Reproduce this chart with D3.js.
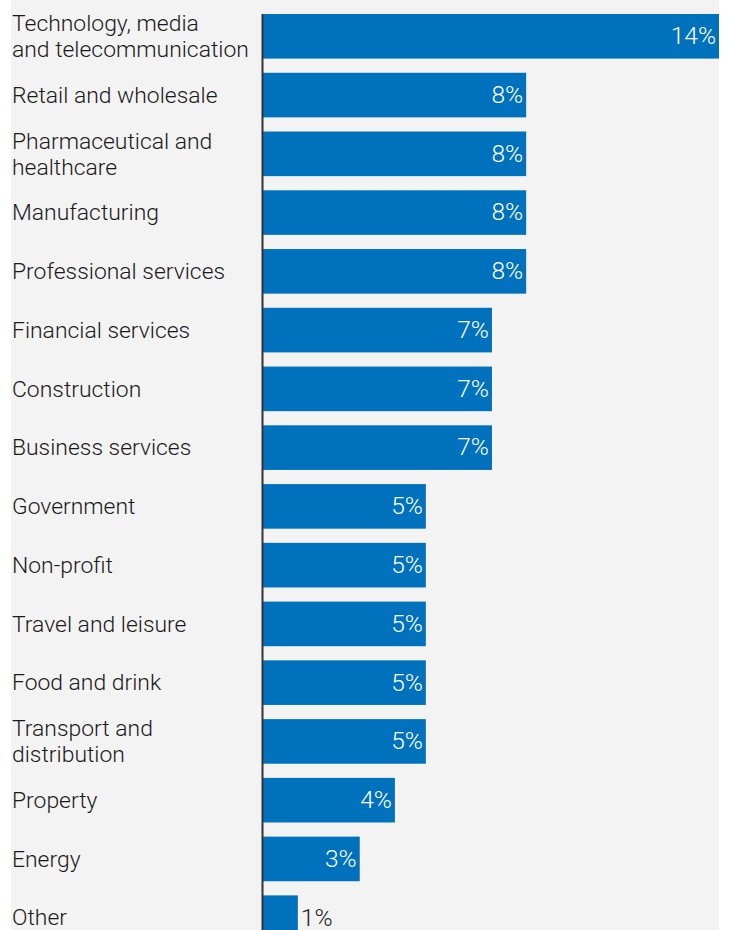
<!DOCTYPE html>
<html>
<head>
<meta charset="utf-8">
<script src="https://cdn.jsdelivr.net/npm/d3@7"></script>
<style>
  html, body { margin: 0; padding: 0; background: #ffffff; }
  svg { display: block; }
  text { font-family: Roboto, "Liberation Sans", Arial, sans-serif; font-weight: 300; }
</style>
</head>
<body>
<svg id="chart" width="733" height="930"></svg>
<script>
const categories = [
  "Technology, media|and telecommunication",
  "Retail and wholesale",
  "Pharmaceutical and|healthcare",
  "Manufacturing",
  "Professional services",
  "Financial services",
  "Construction",
  "Business services",
  "Government",
  "Non-profit",
  "Travel and leisure",
  "Food and drink",
  "Transport and|distribution",
  "Property",
  "Energy",
  "Other"
];
const values = [14, 8.08, 8.08, 8.08, 8.08, 7.03, 7.03, 7.03, 5.0, 5.0, 5.0, 5.0, 5.0, 4.05, 2.97, 1.07];
const valueLabels = ["14%", "8%", "8%", "8%", "8%", "7%", "7%", "7%", "5%", "5%", "5%", "5%", "5%", "4%", "3%", "1%"];
const xDomain = [0, 14];

const W = 733, H = 930;
const svg = d3.select("#chart");

// background panel
svg.append("rect").attr("x", 11).attr("y", 0).attr("width", 708).attr("height", H).attr("fill", "#f3f3f3");

const x = d3.scaleLinear().domain(xDomain).range([263, 719]);
const y = d3.scaleBand().domain(d3.range(categories.length))
  .range([14, 14 + 15 * 58.76 + 44.6]).paddingInner(0.241).paddingOuter(0);

const rows = svg.append("g").selectAll("g").data(values).join("g");

rows.append("rect")
  .attr("x", x(0))
  .attr("y", (d, i) => y(i))
  .attr("width", d => x(d) - x(0))
  .attr("height", y.bandwidth())
  .attr("fill", "#0071bc");

// value labels
const VF = 24.5;
rows.append("text")
  .attr("x", d => (x(d) - x(0) > 60 ? x(d) - 3 : x(d) + 3))
  .attr("y", (d, i) => y(i) + y.bandwidth() / 2)
  .attr("dy", "0.32em")
  .attr("text-anchor", d => (x(d) - x(0) > 60 ? "end" : "start"))
  .attr("fill", d => (x(d) - x(0) > 60 ? "#ffffff" : "#222222"))
  .attr("font-size", VF)
  .text((d, i) => valueLabels[i]);

// category labels
const CF = 22.9;
const cat = svg.append("g").selectAll("text").data(categories).join("text")
  .attr("x", 12)
  .attr("y", (d, i) => y(i) + y.bandwidth() / 2)
  .attr("fill", "#1a1a1a")
  .attr("font-size", CF);
cat.each(function(d) {
  const lines = d.split("|");
  const lh = 26;
  const t = d3.select(this);
  lines.forEach((ln, k) => {
    t.append("tspan")
      .attr("x", 12)
      .attr("dy", k === 0 ? (0.34 * CF - (lines.length - 1) * lh / 2) + "px" : lh + "px")
      .text(ln);
  });
});

// axis line
const axis = d3.axisLeft(y).tickSize(0).tickFormat("");
svg.append("g").attr("transform", `translate(${x(0) - 0.5},0)`).call(axis)
  .call(g => g.select(".domain").attr("d", `M0,14V${H}`).attr("stroke", "#333333").attr("stroke-width", 2));
</script>
</body>
</html>
